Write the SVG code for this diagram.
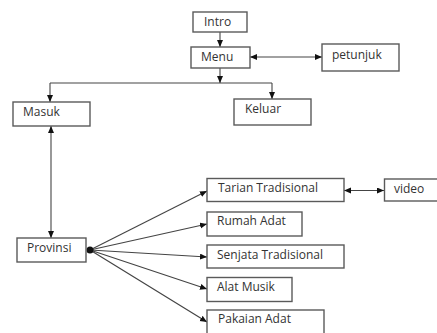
<svg xmlns="http://www.w3.org/2000/svg" width="437" height="333" viewBox="0 0 437 333">
<style>
.box{fill:#fff;stroke:#5a5a5a;stroke-width:1.4}
.lbl{font-family:"Open Sans","Noto Sans",sans-serif;font-size:12px;fill:#333}
.ln{fill:none;stroke:#444;stroke-width:1.1}
.arr{marker-end:url(#ah)}
.bi{marker-start:url(#ah);marker-end:url(#ah)}
</style>
<defs>
<marker id="ah" markerUnits="userSpaceOnUse" markerWidth="8" markerHeight="7" refX="7" refY="3" orient="auto-start-reverse">
<path d="M0,0 L7,3 L0,6 z" fill="#111"/>
</marker>
</defs>
<rect width="437" height="333" fill="#fff"/>
<g id="connectors">
<path class="ln arr" d="M220,32 V47"/>
<path class="ln bi" d="M250,57 H322"/>
<path class="ln arr" d="M220,68 V83"/>
<path class="ln" d="M50,83 H272"/>
<path class="ln arr" d="M50,83 V102"/>
<path class="ln arr" d="M272,83 V99"/>
<path class="ln bi" d="M51,126 V238"/>
<path class="ln arr" d="M90,250 L207,191"/>
<path class="ln arr" d="M90,250 L207,224"/>
<path class="ln arr" d="M90,250 L207,257"/>
<path class="ln arr" d="M90,250 L207,289"/>
<path class="ln arr" d="M90,250 L207,322"/>
<circle cx="90" cy="250" r="3.5" fill="#111"/>
<path class="ln bi" d="M344,190.5 H384"/>
</g>
<g id="intro"><rect class="box" x="193" y="12" width="54" height="20"/><text class="lbl" x="204" y="26">Intro</text></g>
<g id="menu"><rect class="box" x="191" y="47" width="59" height="21"/><text class="lbl" x="201" y="61">Menu</text></g>
<g id="petunjuk"><rect class="box" x="322" y="44" width="77" height="27"/><text class="lbl" x="332" y="59">petunjuk</text></g>
<g id="masuk"><rect class="box" x="13" y="102" width="77" height="24"/><text class="lbl" x="23" y="116">Masuk</text></g>
<g id="keluar"><rect class="box" x="234" y="99" width="77" height="26"/><text class="lbl" x="245" y="113">Keluar</text></g>
<g id="provinsi"><rect class="box" x="17" y="238" width="69" height="24"/><text class="lbl" x="27" y="252">Provinsi</text></g>
<g id="tarian"><rect class="box" x="207" y="178.5" width="137" height="23"/><text class="lbl" x="218" y="192">Tarian Tradisional</text></g>
<g id="video"><rect class="box" x="384.5" y="179" width="55" height="22"/><text class="lbl" x="394" y="193">video</text></g>
<g id="rumah"><rect class="box" x="207" y="212" width="95" height="24"/><text class="lbl" x="217" y="225">Rumah Adat</text></g>
<g id="senjata"><rect class="box" x="207" y="245" width="137" height="23"/><text class="lbl" x="217" y="259">Senjata Tradisional</text></g>
<g id="alat"><rect class="box" x="207" y="277.5" width="85" height="24"/><text class="lbl" x="217" y="291">Alat Musik</text></g>
<g id="pakaian"><rect class="box" x="207" y="310" width="117" height="30"/><text class="lbl" x="218" y="323">Pakaian Adat</text></g>
</svg>
